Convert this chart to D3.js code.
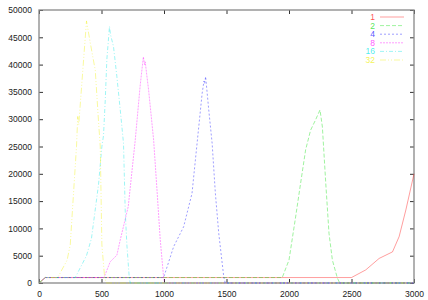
<!DOCTYPE html>
<html>
<head>
<meta charset="utf-8">
<script src="https://cdn.jsdelivr.net/npm/d3@7"></script>
<style>
  body { margin: 0; background: #fff; }
  text { font-family: "Liberation Sans", Arial, sans-serif; }
</style>
</head>
<body>
<div id="chart"></div>
<script>
var svgWidth = 428;
var svgHeight = 300;

// plot box (gnuplot style)
var margin = { top: 10, right: 14, bottom: 17, left: 39 };
var width = svgWidth - margin.left - margin.right;
var height = svgHeight - margin.top - margin.bottom;

var seriesNames = ["1", "2", "4", "8", "16", "32"];
var seriesColors = ["#ff0000", "#00dd00", "#0000ff", "#ff00ff", "#00e5e5", "#eeee00"];
var seriesDash = ["none", "4,2", "2,2", "2,1", "4,2,1,2", "6,2,1,2,1,2"];

var xTicks = [0, 500, 1000, 1500, 2000, 2500, 3000];
var yTicks = [0, 5000, 10000, 15000, 20000, 25000, 30000, 35000, 40000, 45000, 50000];

// values: [x, y]
var s1 = [[0,0],[50,1000],[2500,1000],[2614,2400],[2721,4500],[2828,5700],[2881,8500],
  [2935,13400],[3000,20000]];
var s2 = [[0,0],[50,1000],[1946,1000],[2000,4200],[2053,12100],[2093,18300],[2133,24400],
  [2173,28000],[2213,29900],[2248,31700],[2267,28600],[2294,18300],[2320,9100],[2347,4200],
  [2387,900],[2406,0],[3000,0]];
var s4 = [[0,0],[50,1000],[997,1000],[1077,6650],[1157,10300],[1224,16400],[1251,22500],
  [1278,28600],[1305,34700],[1320,37000],[1325,36500],[1333,37800],[1358,31700],[1385,25600],
  [1411,16400],[1438,9100],[1478,1150],[1490,0],[3000,0]];
var s8 = [[0,0],[50,1000],[520,1000],[570,3900],[623,5100],[650,7900],[714,14000],[770,26200],
  [810,36300],[835,41400],[845,40000],[850,40500],[860,38500],[877,35300],[917,26200],
  [944,17000],[970,7900],[995,1500],[1002,0],[3000,0]];
var s16 = [[0,0],[50,1000],[290,1000],[380,5000],[420,8200],[476,18000],[503,25000],
  [516,27000],[530,33500],[543,41000],[564,47000],[572,45500],[596,43300],[623,37800],
  [650,31700],[676,25600],[690,13000],[703,7000],[722,1000],[730,0],[3000,0]];
var s32 = [[0,0],[50,1000],[150,1000],[225,4200],[250,7000],[300,25000],[310,30500],
  [318,29000],[380,48000],[410,44000],[450,39000],[475,30000],[490,25000],[503,7000],
  [525,1000],[540,0],[3000,0]];
var allSeries = [s1, s2, s4, s8, s16, s32];

var svg = d3.select("#chart")
  .append("svg")
  .attr("width", svgWidth)
  .attr("height", svgHeight);

var chartGroup = svg.append("g")
  .attr("transform", `translate(${margin.left}, ${margin.top})`);

var xScale = d3.scaleLinear().domain([0, 3000]).range([0, width]);
var yScale = d3.scaleLinear().domain([0, 50000]).range([height, 0]);

// axes with inward ticks on all four sides
var bottomAxis = d3.axisBottom(xScale).tickValues(xTicks).tickSize(-4).tickPadding(8)
  .tickFormat(d3.format("d"));
var topAxis = d3.axisTop(xScale).tickValues(xTicks).tickSize(-4).tickFormat("");
var leftAxis = d3.axisLeft(yScale).tickValues(yTicks).tickSize(-4).tickPadding(7)
  .tickFormat(d3.format("d"));
var rightAxis = d3.axisRight(yScale).tickValues(yTicks).tickSize(-4).tickFormat("");

chartGroup.append("g").attr("class", "axis")
  .attr("transform", `translate(0, ${height})`).call(bottomAxis);
chartGroup.append("g").attr("class", "axis").call(topAxis);
chartGroup.append("g").attr("class", "axis").call(leftAxis);
chartGroup.append("g").attr("class", "axis")
  .attr("transform", `translate(${width}, 0)`).call(rightAxis);

chartGroup.selectAll(".axis .domain").remove();
chartGroup.selectAll(".axis line").attr("stroke", "#333").attr("stroke-width", 1);
chartGroup.selectAll(".axis text")
  .attr("font-size", "8.5px")
  .attr("fill", "#222");

chartGroup.append("rect")
  .attr("x", 0).attr("y", 0)
  .attr("width", width).attr("height", height)
  .attr("fill", "none")
  .attr("stroke", "#888")
  .attr("stroke-width", 1.3);

var line = d3.line()
  .x(d => xScale(d[0]))
  .y(d => yScale(d[1]));

allSeries.forEach(function(data, i) {
  chartGroup.append("path")
    .datum(data)
    .attr("d", line)
    .attr("fill", "none")
    .attr("stroke", seriesColors[i])
    .attr("stroke-width", 0.7)
    .attr("stroke-opacity", 0.55)
    .attr("stroke-dasharray", seriesDash[i]);
});

// legend
var legend = svg.append("g");
seriesNames.forEach(function(name, i) {
  var y = 17 + i * 8.6;
  legend.append("text")
    .attr("x", 375)
    .attr("y", y + 3)
    .attr("text-anchor", "end")
    .attr("font-size", "8.5px")
    .attr("fill", seriesColors[i])
    .attr("fill-opacity", 0.7)
    .text(name);
  legend.append("line")
    .attr("x1", 380).attr("x2", 404)
    .attr("y1", y).attr("y2", y)
    .attr("stroke", seriesColors[i])
    .attr("stroke-width", 0.7)
    .attr("stroke-opacity", 0.55)
    .attr("stroke-dasharray", seriesDash[i]);
});
</script>
</body>
</html>
